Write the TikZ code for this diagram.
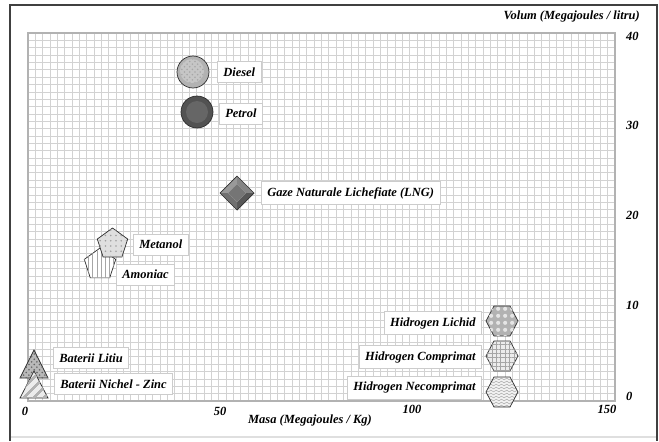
\documentclass[tikz,border=0pt]{standalone}
\usepackage{fontspec}
\setmainfont{Liberation Serif}
\usetikzlibrary{patterns,patterns.meta,decorations.pathmorphing}
\tikzset{
    lbl/.style={draw=gray!40, fill=white, inner xsep=3.4pt, minimum height=0.42cm, font=\fontsize{7.1}{8}\selectfont\bfseries\itshape},
    axtxt/.style={font=\fontsize{7.1}{8}\selectfont\bfseries\itshape},
    shp/.style={draw=gray!35!black, line width=0.4pt},
    gridline/.style={gray!35, line width=0.4pt}
}
\begin{document}
\begin{tikzpicture}[x=0.02cm,y=0.02cm]
                \useasboundingbox (0,0) rectangle (659,441);
                % frame
                \draw[gray!25, line width=0.8pt] (10,4) -- (657,4);
                \draw[black!75, line width=1.2pt] (10,0) -- (10,436) -- (657,436) -- (657,0);
                % grid
                \foreach \i in {0,...,80} \draw[gridline] (28+\i*7.3375,40) -- ++(0,368);
                \foreach \j in {0,...,50} \draw[gridline] (28,40+\j*7.36) -- ++(587,0);
                \draw[gray!60, line width=0.6pt] (28,40) rectangle (615,408);
                % axes
                \node[axtxt, anchor=east] (vol) at (646,425) {Volum (Megajoules / litru)};
                \node[axtxt] (masa) at (310,21) {Masa (Megajoules / Kg)};
                \foreach \v/\yy in {40/405, 30/316, 20/226, 10/136, 0/45} \node[axtxt, anchor=west] (y\v) at (620,\yy) {\v};
                \foreach \v/\xx/\yy in {0/25/30, 50/220/30, 100/412/32, 150/607/32} \node[axtxt] (x\v) at (\xx,\yy) {\v};
                % Diesel, Petrol
                \draw[shp, fill=gray!60] (193,369) circle (16);
                \fill[gray!45, postaction={pattern=crosshatch dots, pattern color=gray!70}] (192,370) circle (12);
                \draw[shp, fill=black!68] (197,329) circle (16);
                \fill[black!60] (197,329) circle (11);
                \node[lbl, anchor=west] (diesel) at (217,369) {Diesel};
                \node[lbl, anchor=west] (petrol) at (219,327.5) {Petrol};
                % LNG
                \fill[black!40] (220,248) -- (237,265) -- (237,257) -- (228,248) -- cycle;
                \fill[black!48] (237,265) -- (254,248) -- (246,248) -- (237,257) -- cycle;
                \fill[black!66] (254,248) -- (237,231) -- (237,239) -- (246,248) -- cycle;
                \fill[black!56] (237,231) -- (220,248) -- (228,248) -- (237,239) -- cycle;
                \fill[black!54] (228,248) -- (237,257) -- (246,248) -- (237,239) -- cycle;
                \draw[shp] (220,248) -- (237,265) -- (254,248) -- (237,231) -- cycle;
                \node[lbl, anchor=west] (lng) at (261,248) {Gaze Naturale Lichefiate (LNG)};
                % Amoniac, Metanol
                \draw[shp, fill=white, postaction={pattern={Lines[angle=90, distance=2.4pt, line width=0.4pt]}, pattern color=gray!70}] (100,176.5) +(90:16.5) -- +(162:16.5) -- +(234:16.5) -- +(306:16.5) -- +(18:16.5) -- cycle;
                \node[lbl, anchor=west] (amoniac) at (116,166.5) {Amoniac};
                \draw[shp, fill=gray!25, postaction={pattern=dots, pattern color=gray!75}] (112.5,197) +(90:16) -- +(162:16) -- +(234:16) -- +(306:16) -- +(18:16) -- cycle;
                \node[lbl, anchor=west] (metanol) at (133,196.5) {Metanol};
                % batteries
                \draw[shp, fill=gray!55, postaction={pattern=crosshatch dots, pattern color=gray!80!black}] (20,63) -- (34,91) -- (48,63) -- cycle;
                \node[lbl, anchor=west] (litiu) at (53,83) {Baterii Litiu};
                \draw[shp, fill=gray!15, postaction={pattern={Lines[angle=45, distance=4pt, line width=1.5pt]}, pattern color=gray!60}] (20,43) -- (34,70) -- (48,43) -- cycle;
                \node[lbl, anchor=west] (nichel) at (54,57) {Baterii Nichel - Zinc};
                % hydrogen
                \begin{scope}[shift={(502,120)}]
                    \draw[shp, fill=gray!60, postaction={pattern={Dots[radius=1.3pt, distance=4pt]}, pattern color=gray!20}] (16,0) -- (8,15) -- (-8,15) -- (-16,0) -- (-8,-15) -- (8,-15) -- cycle;
                \end{scope}
                \begin{scope}[shift={(502,85)}]
                    \draw[shp, fill=gray!15, postaction={pattern={Hatch[distance=2.5pt, line width=0.3pt]}, pattern color=gray!70}] (16,0) -- (8,15) -- (-8,15) -- (-16,0) -- (-8,-15) -- (8,-15) -- cycle;
                \end{scope}
                \begin{scope}[shift={(502,49)}]
                    \fill[gray!10] (16,0) -- (8,15) -- (-8,15) -- (-16,0) -- (-8,-15) -- (8,-15) -- cycle;
                    \begin{scope}
                        \clip (16,0) -- (8,15) -- (-8,15) -- (-16,0) -- (-8,-15) -- (8,-15) -- cycle;
                        \foreach \k in {-14,-11,...,14} \draw[gray!65, line width=0.3pt, decorate, decoration={snake, amplitude=0.5pt, segment length=3pt}] (-18,\k) -- (18,\k);
                    \end{scope}
                    \draw[shp] (16,0) -- (8,15) -- (-8,15) -- (-16,0) -- (-8,-15) -- (8,-15) -- cycle;
                \end{scope}
                \node[lbl, anchor=east] (hlichid) at (482,118) {Hidrogen Lichid};
                \node[lbl, anchor=east] (hcompr) at (482,84) {Hidrogen Comprimat};
                \node[lbl, anchor=east] (hnecompr) at (482,53.5) {Hidrogen Necomprimat};
            \end{tikzpicture}
\end{document}
